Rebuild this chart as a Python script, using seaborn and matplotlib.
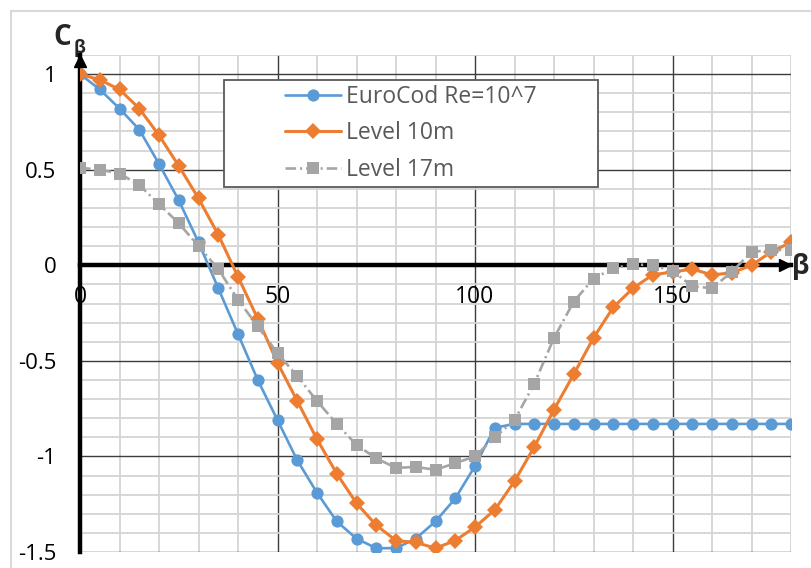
import matplotlib
matplotlib.use("Agg")
import matplotlib.pyplot as plt
from matplotlib.ticker import MultipleLocator, FixedLocator
from matplotlib.patches import Rectangle
import seaborn as sns
import pandas as pd

# ---- data ----
beta = list(range(0, 185, 5))
eurocod = [1.00, 0.92, 0.82, 0.71, 0.53, 0.34, 0.12, -0.12, -0.36, -0.60,
           -0.81, -1.02, -1.19, -1.34, -1.43, -1.48, -1.48, -1.43, -1.34, -1.22,
           -1.05, -0.85, -0.83, -0.83, -0.83, -0.83, -0.83, -0.83, -0.83, -0.83,
           -0.83, -0.83, -0.83, -0.83, -0.83, -0.83, -0.83]
level10 = [1.00, 0.97, 0.92, 0.82, 0.68, 0.52, 0.35, 0.16, -0.06, -0.28,
           -0.51, -0.71, -0.91, -1.09, -1.245, -1.36, -1.44, -1.45, -1.48, -1.44,
           -1.37, -1.28, -1.13, -0.95, -0.755, -0.57, -0.38, -0.22, -0.12, -0.05,
           -0.035, -0.02, -0.05, -0.04, 0.0, 0.07, 0.12]
level17 = [0.51, 0.50, 0.48, 0.42, 0.32, 0.22, 0.10, -0.02, -0.18, -0.32,
           -0.46, -0.58, -0.71, -0.83, -0.94, -1.01, -1.06, -1.055, -1.07, -1.035,
           -1.00, -0.90, -0.81, -0.62, -0.38, -0.19, -0.07, -0.016, 0.005, 0.0,
           -0.03, -0.11, -0.12, -0.035, 0.07, 0.08, 0.08]
series_names = ["EuroCod Re=10^7", "Level 10m", "Level 17m"]
x_major_ticks = [0, 50, 100, 150]
y_major_ticks = [-1.5, -1, -0.5, 0, 0.5, 1]
y_tick_labels = ["-1.5", "-1", "-0.5", "0", "0.5", "1"]

df = pd.DataFrame({"beta": beta, "euro": eurocod, "l10": level10, "l17": level17})

sns.set_style("white")
plt.rcParams["font.family"] = ["Open Sans", "DejaVu Sans"]

fig = plt.figure(figsize=(8.11, 5.68), dpi=100)
ax = fig.add_axes([80 / 811, 16 / 568, 711 / 811, 497 / 568])

blue, orange, gray = "#5B9BD5", "#ED7D31", "#A5A5A5"

sns.lineplot(data=df, x="beta", y="euro", ax=ax, color=blue, lw=1.9,
             marker="o", markersize=8.8, mec=blue, mew=0, label=series_names[0],
             zorder=4)
sns.lineplot(data=df, x="beta", y="l10", ax=ax, color=orange, lw=2.2,
             marker="D", markersize=8.0, mec=orange, mew=0, label=series_names[1],
             zorder=5)
sns.lineplot(data=df, x="beta", y="l17", ax=ax, color=gray, lw=1.9,
             linestyle=(0, (4, 1.5, 0.8, 1.5)),
             marker="s", markersize=8.8, mec=gray, mew=0, label=series_names[2],
             zorder=6)

ax.set_xlim(0, 180)
ax.set_ylim(-1.5, 1.1)

ax.xaxis.set_major_locator(FixedLocator(x_major_ticks))
ax.xaxis.set_minor_locator(MultipleLocator(10))
ax.yaxis.set_major_locator(FixedLocator(y_major_ticks))
ax.set_yticklabels(y_tick_labels)
ax.yaxis.set_minor_locator(MultipleLocator(0.1))

ax.grid(True, which="minor", color="#D4D4D4", lw=1.3, zorder=0)
ax.grid(True, which="major", color="#3C3C3C", lw=1.0, zorder=0)
ax.set_axisbelow(True)

for s in ["top", "right"]:
    ax.spines[s].set_visible(False)
ax.spines["bottom"].set_position(("data", 0))
ax.spines["left"].set_position(("data", 0))
for s in ["bottom", "left"]:
    ax.spines[s].set_color("black")
    ax.spines[s].set_linewidth(3.2)
    ax.spines[s].set_zorder(3)

ax.tick_params(axis="x", which="both", length=0, pad=14, labelsize=16.5,
               labelcolor="black")
ax.tick_params(axis="y", which="both", direction="in", length=6.5, width=3,
               color="black", pad=17, labelsize=16, labelcolor="black")

ax.set_xlabel("")
ax.set_ylabel("")

# axis arrows
ax.plot(0.991, 0, marker=">", color="black", markersize=9,
        transform=ax.get_yaxis_transform(), clip_on=False, zorder=7)
ax.plot(0, 0.988, marker="^", color="black", markersize=9,
        transform=ax.transAxes, clip_on=False, zorder=7)

# axis titles
ax.text(1.0135, 0.575, "β", transform=ax.transAxes, fontsize=19,
        fontweight="bold", ha="center", va="center")
ax.text(-0.025, 1.035, "C", transform=ax.transAxes, fontsize=20,
        fontweight="bold", ha="center", va="center")
ax.text(0.0, 1.015, "β", transform=ax.transAxes, fontsize=13,
        fontweight="bold", ha="center", va="center")

# legend box and centred legend
box = (0.2025, 0.7345, 0.526, 0.2155)
ax.add_patch(Rectangle(box[:2], box[2], box[3], transform=ax.transAxes,
                       facecolor="white", edgecolor="#595959", lw=1.3,
                       zorder=7, clip_on=False))
leg = ax.legend(loc="center", bbox_to_anchor=box, borderaxespad=0,
                fontsize=16.5, frameon=False, handlelength=2.45,
                handletextpad=0.22, labelspacing=0.55, borderpad=0.2,
                labelcolor="#595959")
leg.set_zorder(8)

# outer chart border
fig.patches.append(Rectangle((11 / 811, -0.1), 1.2, 1.1 - 11 / 568,
                             transform=fig.transFigure, fill=False,
                             edgecolor="#D9D9D9", lw=1.5))

fig.savefig("out.png", dpi=100)
